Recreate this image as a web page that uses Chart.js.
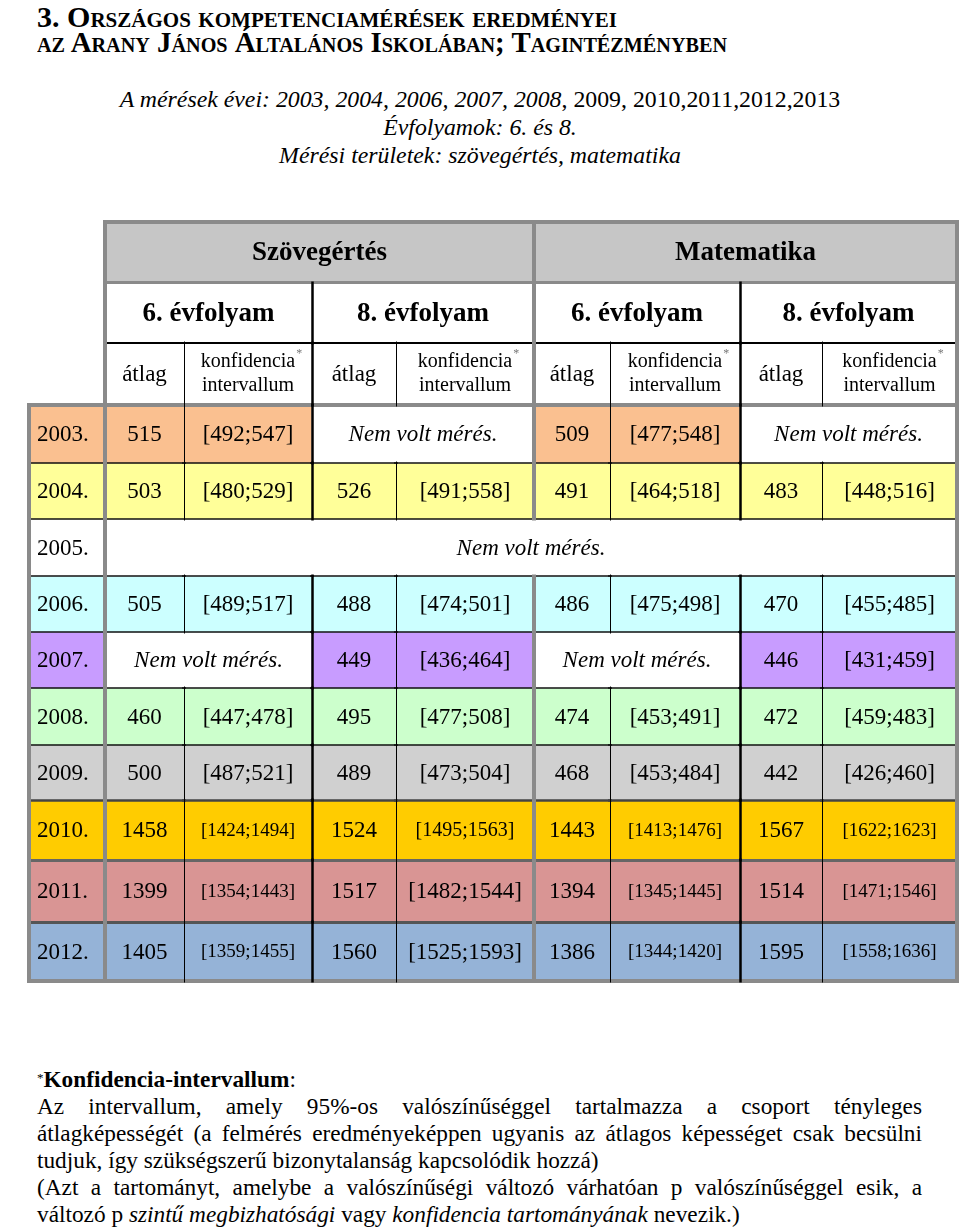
<!DOCTYPE html>
<html>
<head>
<meta charset="utf-8">
<script src="https://cdn.jsdelivr.net/npm/chart.js@4.4.1/dist/chart.umd.min.js"></script>
<style>
html,body{margin:0;padding:0;background:#fff;}
body{width:960px;height:1230px;position:relative;overflow:hidden;font-family:'Liberation Serif','Times New Roman',serif;color:#000;}
.title{position:absolute;left:37px;font-weight:bold;font-variant:small-caps;font-size:30px;line-height:28px;white-space:nowrap;transform-origin:0 0;}
.sub{position:absolute;left:0;width:960px;text-align:center;font-style:italic;font-size:23.8px;line-height:28px;white-space:nowrap;}
.sub span{font-style:normal;}
#wrap{position:absolute;left:0;top:212px;width:960px;height:779px;}
.foot{position:absolute;left:37px;width:885px;font-size:23.3px;line-height:27px;white-space:nowrap;}
.j{text-align:justify;text-align-last:justify;}
.foot sup{font-size:13px;vertical-align:top;position:relative;top:-2px;}
</style>
</head>
<body>
<div id="t1" class="title" style="top:3px">3. Országos kompetenciamérések eredményei</div>
<div id="t2" class="title" style="top:28px">az Arany János Általános Iskolában; Tagintézményben</div>

<div class="sub" style="top:85px">A mérések évei: 2003, 2004, 2006, 2007, 2008<span>, 2009, 2010,2011,2012,2013</span></div>
<div class="sub" style="top:113px">Évfolyamok: 6. és 8.</div>
<div class="sub" style="top:141px">Mérési területek: szövegértés, matematika</div>

<div id="wrap"><canvas id="c" width="960" height="779"></canvas></div>

<div class="foot" style="top:1066px"><sup>*</sup><b>Konfidencia-intervallum</b>:</div>
<div class="foot j" style="top:1093px">Az intervallum, amely 95%-os valószínűséggel tartalmazza a csoport tényleges</div>
<div class="foot j" style="top:1120px">átlagképességét (a felmérés eredményeképpen ugyanis az átlagos képességet csak becsülni</div>
<div class="foot" style="top:1147px">tudjuk, így szükségszerű bizonytalanság kapcsolódik hozzá)</div>
<div class="foot j" style="top:1174px">(Azt a tartományt, amelybe a valószínűségi változó várhatóan p valószínűséggel esik, a</div>
<div class="foot" style="top:1201px">változó p <i>szintű megbizhatósági</i> vagy <i>konfidencia tartományának</i> nevezik.)</div>

<script>
// ---------------- data ----------------
const years    = ['2003.','2004.','2005.','2006.','2007.','2008.','2009.','2010.','2011.','2012.'];
const subjects = ['Szövegértés','Matematika'];
const grades   = ['6. évfolyam','8. évfolyam'];
const colHeadAvg = 'átlag';
const colHeadCI  = ['konfidencia','intervallum'];
const noData   = 'Nem volt mérés.';

const szov6Avg = [515, 503, null, 505, null, 460, 500, 1458, 1399, 1405];
const szov6CI  = ['[492;547]','[480;529]',null,'[489;517]',null,'[447;478]','[487;521]','[1424;1494]','[1354;1443]','[1359;1455]'];
const szov8Avg = [null, 526, null, 488, 449, 495, 489, 1524, 1517, 1560];
const szov8CI  = [null,'[491;558]',null,'[474;501]','[436;464]','[477;508]','[473;504]','[1495;1563]','[1482;1544]','[1525;1593]'];
const mat6Avg  = [509, 491, null, 486, null, 474, 468, 1443, 1394, 1386];
const mat6CI   = ['[477;548]','[464;518]',null,'[475;498]',null,'[453;491]','[453;484]','[1413;1476]','[1345;1445]','[1344;1420]'];
const mat8Avg  = [null, 483, null, 470, 446, 472, 442, 1567, 1514, 1595];
const mat8CI   = [null,'[448;516]',null,'[455;485]','[431;459]','[459;483]','[426;460]','[1622;1623]','[1471;1546]','[1558;1636]'];

// ---------------- layout / style ----------------
const rowFill  = ['#FAC090','#FFFF99','#FFFFFF','#CCFFFF','#C89CFF','#CCFFCC','#D0D0D0','#FFCC00','#D99594','#95B3D7'];
const headFill = '#C6C6C6';
const E = {L:29, Y:105, A1:184, S8:312, A2:396, M:534, A3:610, M8:740, A4:822, R:957};
const rowEdges = [222,283,343,405,463,519,576,632,688,745,800,860,922,981];
const FONT = "'Liberation Serif','Times New Roman',serif";
const GREY = '#8a8a8a';
const vStyle = new Map([
  [E.L,[GREY,4]],[E.Y,[GREY,4]],[E.M,[GREY,4]],[E.R,[GREY,4]],
  [E.S8,['#000',2.5]],[E.M8,['#000',2.5]],
  [E.A1,['#000',1]],[E.A2,['#000',1]],[E.A3,['#000',1]],[E.A4,['#000',1]]
]);
const hStyle = [[GREY,4],[GREY,3],['#000',2],[GREY,4],
  ['#111',1.5],['#111',1.5],['#111',1.5],['#111',1.5],['#111',1.5],['#111',1.5],
  ['#444',2.5],['#666',3],['#555',3],[GREY,4]];

function ciFont(r, g){
  if (r < 7) return '23px';
  if (g === 1) return r === 7 ? '20px' : '23px';
  return '19px';
}

const groups = [
  {avg:szov6Avg, ci:szov6CI, x0:E.Y,  xm:E.A1, x1:E.S8},
  {avg:szov8Avg, ci:szov8CI, x0:E.S8, xm:E.A2, x1:E.M},
  {avg:mat6Avg,  ci:mat6CI,  x0:E.M,  xm:E.A3, x1:E.M8},
  {avg:mat8Avg,  ci:mat8CI,  x0:E.M8, xm:E.A4, x1:E.R}
];

const tableRows = [];
tableRows.push([
  {from:E.Y, to:E.M, text:subjects[0], bg:headFill, font:'bold 27px'},
  {from:E.M, to:E.R, text:subjects[1], bg:headFill, font:'bold 27px'}
]);
tableRows.push(groups.map((g,i)=>({from:g.x0, to:g.x1, text:grades[i%2], bg:'#FFFFFF', font:'bold 27px'})));
tableRows.push(groups.flatMap(g=>[
  {from:g.x0, to:g.xm, text:colHeadAvg, bg:'#FFFFFF', font:'23px'},
  {from:g.xm, to:g.x1, lines:colHeadCI, sup:true, bg:'#FFFFFF', font:'20px'}
]));
years.forEach((yr, r)=>{
  const fill = rowFill[r];
  const cells = [{from:E.L, to:E.Y, text:yr, bg:fill, font:'23px', align:'left'}];
  const none = groups.every(g=>g.avg[r]==null);
  if (none) {
    cells.push({from:E.Y, to:E.R, text:noData, bg:'#FFFFFF', font:'italic 23px'});
  } else {
    groups.forEach((g, gi)=>{
      if (g.avg[r]==null) {
        cells.push({from:g.x0, to:g.x1, text:noData, bg:'#FFFFFF', font:'italic 23px'});
      } else {
        cells.push({from:g.x0, to:g.xm, text:String(g.avg[r]), bg:fill, font:'23px'});
        cells.push({from:g.xm, to:g.x1, text:g.ci[r], bg:fill, font:ciFont(r, gi)});
      }
    });
  }
  tableRows.push(cells);
});

const datasets = tableRows.map((cells, r)=>({
  label: 'row'+r,
  data: cells.map(c=>({x:[c.from, c.to], y:(rowEdges[r]+rowEdges[r+1])/2})),
  backgroundColor: cells.map(c=>c.bg),
  borderWidth: 0,
  barThickness: rowEdges[r+1]-rowEdges[r],
  stack: 'table'
}));

function snap(v, w){ return (Math.round(w) % 2 === 1) ? Math.floor(v) + 0.5 : Math.round(v); }

const tablePlugin = {
  id: 'tableCells',
  afterDatasetsDraw(chart){
    const ctx = chart.ctx;
    ctx.save();
    const rects = tableRows.map((cells, r)=>{
      const meta = chart.getDatasetMeta(r);
      return cells.map((c, k)=>{
        const p = meta.data[k].getProps(['x','y','base','height'], true);
        return {l:Math.min(p.x,p.base), r:Math.max(p.x,p.base), t:p.y-p.height/2, b:p.y+p.height/2, cx:(p.x+p.base)/2, cy:p.y};
      });
    });
    // text
    ctx.fillStyle = '#000';
    ctx.textBaseline = 'middle';
    tableRows.forEach((cells, r)=>cells.forEach((c, k)=>{
      const q = rects[r][k];
      ctx.font = c.font + ' ' + FONT;
      if (c.lines) {
        ctx.textAlign = 'center';
        ctx.fillText(c.lines[0], q.cx, q.cy - 12);
        ctx.fillText(c.lines[1], q.cx, q.cy + 12);
        if (c.sup) {
          const w = ctx.measureText(c.lines[0]).width;
          ctx.font = '12px ' + FONT;
          ctx.fillStyle = '#777';
          ctx.textAlign = 'left';
          ctx.fillText('*', q.cx + w/2 + 1, q.cy - 20);
          ctx.fillStyle = '#000';
        }
      } else if (c.align === 'left') {
        ctx.textAlign = 'left';
        ctx.fillText(c.text, q.l + 8, q.cy + 1);
      } else {
        ctx.textAlign = 'center';
        ctx.fillText(c.text, q.cx, q.cy + 1);
      }
    }));
    // horizontal borders
    const nRows = tableRows.length;
    tableRows.forEach((cells, r)=>cells.forEach((c, k)=>{
      const q = rects[r][k];
      const hl = (y, st)=>{
        ctx.strokeStyle = st[0]; ctx.lineWidth = st[1];
        const yy = snap(y, st[1]);
        ctx.beginPath(); ctx.moveTo(q.l - 2, yy); ctx.lineTo(q.r + 2, yy); ctx.stroke();
      };
      hl(q.t, hStyle[r]);
      if (r === nRows - 1) hl(q.b, hStyle[r+1]);
    }));
    // vertical borders
    tableRows.forEach((cells, r)=>cells.forEach((c, k)=>{
      const q = rects[r][k];
      const vl = (x, st)=>{
        ctx.strokeStyle = st[0]; ctx.lineWidth = st[1];
        const xx = snap(x, st[1]);
        ctx.beginPath(); ctx.moveTo(xx, q.t - 1.5); ctx.lineTo(xx, q.b + 1.5); ctx.stroke();
      };
      vl(q.l, vStyle.get(c.from));
      if (k === cells.length - 1) vl(q.r, vStyle.get(c.to));
    }));
    ctx.restore();
  }
};

new Chart(document.getElementById('c'), {
  type: 'bar',
  data: { datasets },
  options: {
    indexAxis: 'y',
    responsive: false,
    animation: false,
    devicePixelRatio: 1,
    events: [],
    layout: { padding: 0 },
    datasets: { bar: { grouped: true, categoryPercentage: 1, barPercentage: 1 } },
    scales: {
      x: { type: 'linear', min: 0, max: 960, stacked: false, offset: false, display: false },
      y: { type: 'linear', min: 212, max: 991, reverse: true, offset: false, display: false }
    },
    plugins: { legend: { display: false }, tooltip: { enabled: false } }
  },
  plugins: [tablePlugin]
});

// fit the condensed title lines to their measured widths
(function(){
  const fit = (id, target)=>{
    const el = document.getElementById(id);
    const w = el.getBoundingClientRect().width;
    el.style.transform = 'scaleX(' + (target / w) + ')';
  };
  fit('t1', 580);
  fit('t2', 690);
})();
</script>
</body>
</html>
